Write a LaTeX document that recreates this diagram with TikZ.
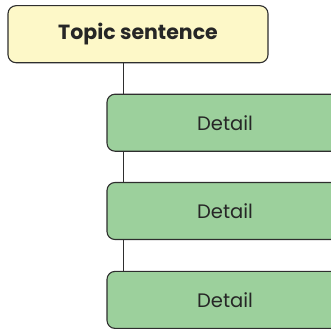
\documentclass[tikz,border=0pt]{standalone}
\usepackage{fontspec}
\setmainfont{Poppins}
\definecolor{topicfill}{HTML}{FDF8C8}
\definecolor{detailfill}{HTML}{9CD09C}
\definecolor{edge}{HTML}{2E2E2E}
\definecolor{txt}{HTML}{262626}
\begin{document}
\begin{tikzpicture}[x=1pt,y=-1pt,
  box/.style={draw=edge,line width=1.1pt,rounded corners=8pt,inner sep=0pt},
  topicbox/.style={box,fill=topicfill,minimum width=260pt,minimum height=57pt,font=\fontsize{20.5}{24}\selectfont\bfseries,text=txt},
  detailbox/.style={box,fill=detailfill,minimum width=236pt,minimum height=57pt,font=\fontsize{19.5}{23}\selectfont,text=txt},
  conn/.style={draw=edge,line width=0.9pt}]
\useasboundingbox (0,0) rectangle (331,329);
\clip (0,0) rectangle (331,329);
\node[topicbox] (t) at (138,34.2) {Topic sentence};
\node[detailbox] (d1) at (225,122.7) {Detail};
\node[detailbox] (d2) at (225,211) {Detail};
\node[detailbox] (d3) at (225,299.9) {Detail};
\coordinate (x) at (123,0);
\draw[conn] (t.south -| x) -- (d1.north -| x);
\draw[conn] (d1.south -| x) -- (d2.north -| x);
\draw[conn] (d2.south -| x) -- (d3.north -| x);
\end{tikzpicture}
\end{document}
